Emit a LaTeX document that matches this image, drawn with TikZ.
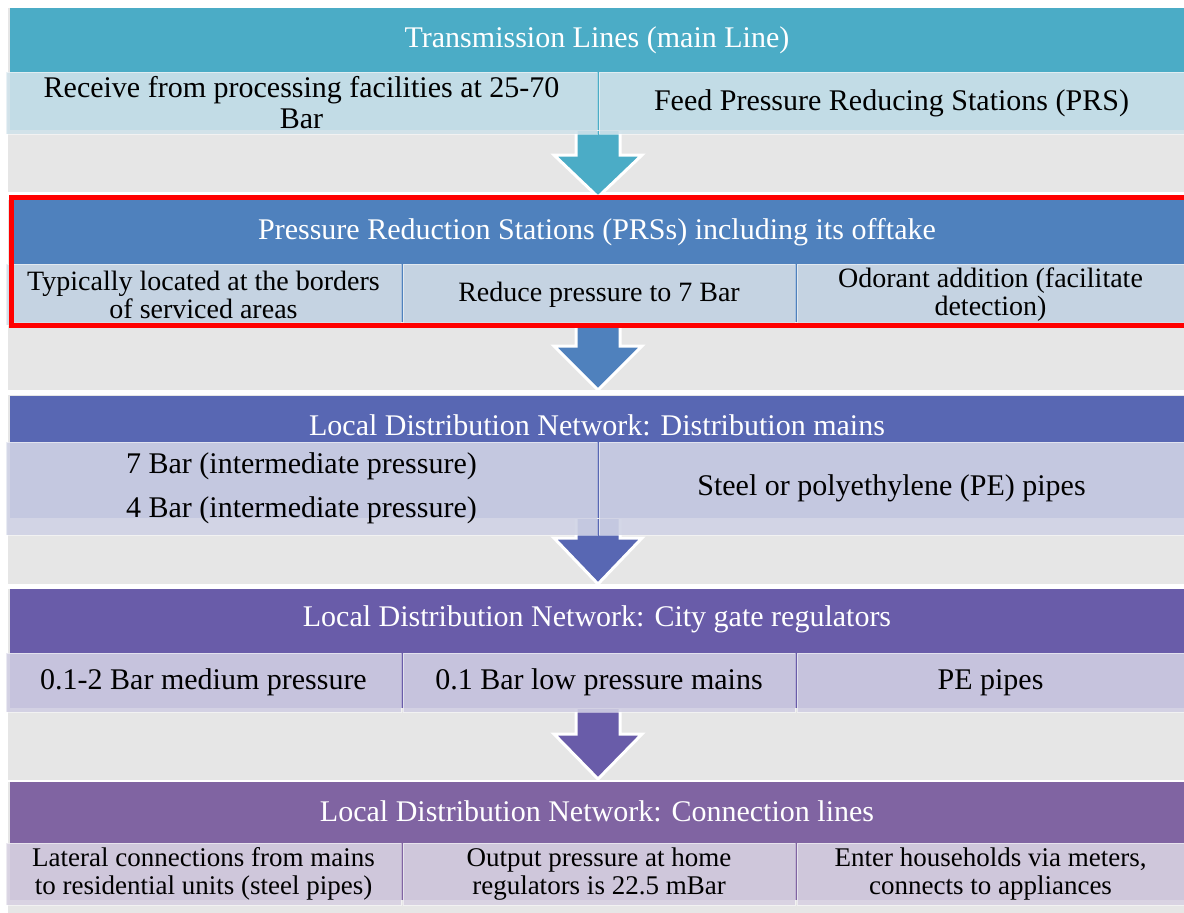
\documentclass[tikz,border=0pt]{standalone}
\usepackage{fontspec}
\setmainfont{Liberation Serif}
\definecolor{bandgray}{HTML}{E6E6E6}
\definecolor{hA}{HTML}{4BACC6}\definecolor{bA}{HTML}{D0E2EA}
\definecolor{hB}{HTML}{4F81BD}\definecolor{bB}{HTML}{D2DCE7}
\definecolor{hC}{HTML}{5867B3}\definecolor{bC}{HTML}{D0D3E5}
\definecolor{hD}{HTML}{695CA9}\definecolor{bD}{HTML}{D1CFE3}
\definecolor{hE}{HTML}{8064A2}\definecolor{bE}{HTML}{D8D2E2}
\newcommand\blockarrow[4]{%
  \fill[#4] (576,#1) -- (576,#2) -- (554,#2) -- (598,#3) -- (642,#2) -- (620,#2) -- (620,#1) -- cycle;
  \draw[flowedge] (576,#1) -- (576,#2) -- (554,#2) -- (598,#3) -- (642,#2) -- (620,#2) -- (620,#1);}
\begin{document}
\begin{tikzpicture}[x=1pt,y=-1pt,
  hdrtext/.style={text=white, inner sep=0pt, font=\fontsize{30}{31}\selectfont},
  cell/.style={fill=#1, fill opacity=0.9, text opacity=1, draw=white, draw opacity=0.5,
    line width=1pt, inner sep=0pt, outer sep=0pt, anchor=north west, align=center,
    text=black, font=\fontsize{30}{31}\selectfont},
  smalltext/.style={font=\fontsize{28}{28}\selectfont},
  tinytext/.style={font=\fontsize{27}{28}\selectfont},
  flowedge/.style={draw=white, line width=3pt, line join=miter},
]
\useasboundingbox (0,0) rectangle (1184,913);
\fill[white] (0,0) rectangle (1184,913);

% background bands
\fill[bandgray] (8,8) rectangle (1184,192);
\fill[bandgray] (8,200) rectangle (1184,390);
\fill[bandgray] (8,395) rectangle (1184,584);
\fill[bandgray] (8,589) rectangle (1184,780);
\fill[bandgray] (8,782) rectangle (1184,913);

% header bars
\fill[hA] (10,8) rectangle (1184,130);
\fill[hB] (10,200) rectangle (1184,322);
\fill[hC] (10,396) rectangle (1184,518);
\fill[hD] (10,589) rectangle (1184,708);
\fill[hE] (10,782) rectangle (1184,900);

% block arrows
\blockarrow{131}{155}{197}{hA}
\blockarrow{323}{346}{390}{hB}
\blockarrow{519}{538}{584}{hC}
\blockarrow{709}{734}{779}{hD}

% header texts
\node[hdrtext] (t1) at (597,40) {Transmission Lines (main Line)};
\node[hdrtext] (t2) at (597,232) {Pressure Reduction Stations (PRSs) including its offtake};
\node[hdrtext] (t3) at (597,425) {Local Distribution Network: Distribution mains};
\node[hdrtext] (t4) at (597,619) {Local Distribution Network: City gate regulators};
\node[hdrtext] (t5) at (597,811) {Local Distribution Network: Connection lines};

% section 1 cells
\node[cell=bA, minimum width=591pt, minimum height=62pt] (c11) at (6,72) {Receive from processing facilities at 25-70\\Bar};
\node[cell=bA, minimum width=585pt, minimum height=62pt] (c12) at (599,72) {Feed Pressure Reducing Stations (PRS)};

% section 2 cells
\node[cell=bB, smalltext, minimum width=395pt, minimum height=61pt] (c21) at (6,264) {Typically located at the borders\\of serviced areas};
\node[cell=bB, smalltext, minimum width=392pt, minimum height=61pt] (c22) at (403,264) {Reduce pressure to 7 Bar};
\node[cell=bB, smalltext, minimum width=387pt, minimum height=61pt] (c23) at (797,264) {Odorant addition (facilitate\\detection)};

% section 3 cells
\node[cell=bC, minimum width=591pt, minimum height=93pt] (c31) at (6,442) {7 Bar (intermediate pressure)\\[13pt]4 Bar (intermediate pressure)};
\node[cell=bC, minimum width=585pt, minimum height=93pt] (c32) at (599,442) {Steel or polyethylene (PE) pipes};

% section 4 cells
\node[cell=bD, minimum width=395pt, minimum height=59pt] (c41) at (6,653) {0.1-2 Bar medium pressure};
\node[cell=bD, minimum width=392pt, minimum height=59pt] (c42) at (403,653) {0.1 Bar low pressure mains};
\node[cell=bD, minimum width=387pt, minimum height=59pt] (c43) at (797,653) {PE pipes};

% section 5 cells
\node[cell=bE, tinytext, minimum width=395pt, minimum height=62pt] (c51) at (6,843) {Lateral connections from mains\\to residential units (steel pipes)};
\node[cell=bE, tinytext, minimum width=392pt, minimum height=62pt] (c52) at (403,843) {Output pressure at home\\regulators is 22.5 mBar};
\node[cell=bE, tinytext, minimum width=387pt, minimum height=62pt] (c53) at (797,843) {Enter households via meters,\\connects to appliances};

% highlight frame
\draw[red, line width=5pt] (1190,197) -- (11.5,197) -- (11.5,325) -- (1190,325);
\end{tikzpicture}
\end{document}
